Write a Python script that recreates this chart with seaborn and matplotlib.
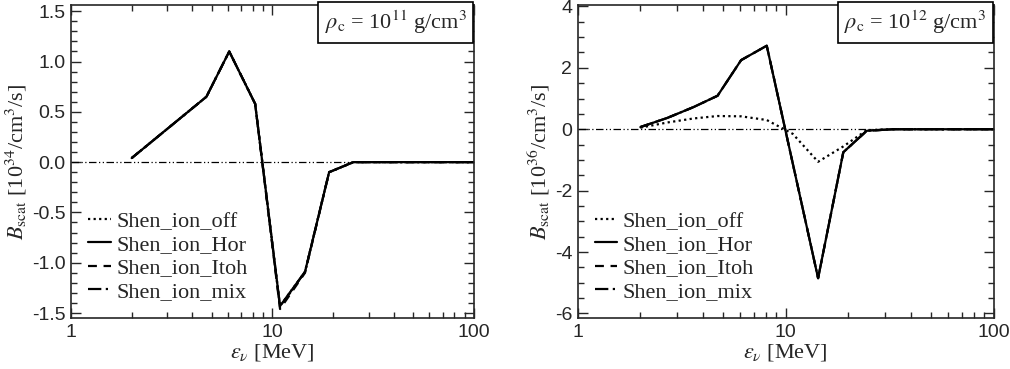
import numpy as np
import pandas as pd
import seaborn as sns
import matplotlib.pyplot as plt
from matplotlib.ticker import MultipleLocator, LogLocator, FixedLocator, FixedFormatter

# energies [MeV] and B_scat values
e_left = [2.0, 4.7, 6.1, 8.2, 10.9, 14.5, 19.1, 25.2, 33.0, 50.0, 100.0]
off_left = [0.04, 0.65, 1.10, 0.58, -1.43, -1.09, -0.10, 0.0, 0.0, 0.0, 0.0]
hor_left = [0.04, 0.65, 1.10, 0.58, -1.43, -1.09, -0.10, 0.0, 0.0, 0.0, 0.0]
itoh_left = [0.04, 0.65, 1.10, 0.58, -1.46, -1.10, -0.10, 0.0, 0.0, 0.0, 0.0]
mix_left = [0.04, 0.65, 1.10, 0.58, -1.44, -1.09, -0.10, 0.0, 0.0, 0.0, 0.0]

e_right = [2.0, 2.7, 3.6, 4.7, 6.1, 8.1, 10.8, 14.3, 18.9, 24.5, 33.0, 50.0, 100.0]
off_right = [0.05, 0.22, 0.35, 0.43, 0.42, 0.30, -0.15, -1.06, -0.56, -0.03, 0.0, 0.0, 0.0]
hor_right = [0.07, 0.37, 0.72, 1.09, 2.25, 2.72, -1.11, -4.85, -0.75, -0.05, 0.0, 0.0, 0.0]
itoh_right = [0.07, 0.37, 0.72, 1.09, 2.25, 2.72, -1.11, -4.85, -0.75, -0.05, 0.0, 0.0, 0.0]
mix_right = [0.07, 0.37, 0.72, 1.09, 2.25, 2.72, -1.11, -4.85, -0.75, -0.05, 0.0, 0.0, 0.0]

labels = ["Shen_ion_off", "Shen_ion_Hor", "Shen_ion_Itoh", "Shen_ion_mix"]
styles = [(0, (1, 1.5)), "-", (0, (4, 3)), (0, (6, 2, 1, 2))]

sns.set_style("ticks")
plt.rcParams["font.family"] = ["Liberation Sans", "DejaVu Sans"]
plt.rcParams["mathtext.fontset"] = "stix"
plt.rcParams["xtick.direction"] = "in"
plt.rcParams["ytick.direction"] = "in"
plt.rcParams["xtick.top"] = True
plt.rcParams["ytick.right"] = True

serif = ["Liberation Serif", "DejaVu Serif"]

fig = plt.figure(figsize=(10.1, 3.69), dpi=100)
ax1 = fig.add_axes([0.0703, 0.138, 0.399, 0.848])
ax2 = fig.add_axes([0.572, 0.138, 0.412, 0.848])

panels = [
    (ax1, e_left, [off_left, hor_left, itoh_left, mix_left], 34, 11, (-1.55, 1.56), 0.5, 0.1),
    (ax2, e_right, [off_right, hor_right, itoh_right, mix_right], 36, 12, (-6.15, 4.04), 2, 0.5),
]

for ax, e, series, expo, rho, ylim, major, minor in panels:
    ax.axhline(0, color="k", lw=0.9, ls=(0, (6, 2, 1, 2, 1, 2)), zorder=1)
    for vals, lab, ls in zip(series, labels, styles):
        sns.lineplot(x=e, y=vals, ax=ax, color="k", lw=1.6, linestyle=ls,
                     label=lab, estimator=None, sort=True)
    ax.set_xscale("log")
    ax.set_xlim(1, 100)
    ax.set_ylim(*ylim)
    ax.xaxis.set_major_locator(FixedLocator([1, 10, 100]))
    ax.xaxis.set_major_formatter(FixedFormatter(["1", "10", "100"]))
    ax.xaxis.set_minor_locator(LogLocator(base=10, subs=np.arange(2, 10)))
    ax.yaxis.set_major_locator(MultipleLocator(major))
    ax.yaxis.set_minor_locator(MultipleLocator(minor))
    if major == 0.5:
        ax.yaxis.set_major_formatter(plt.FuncFormatter(lambda v, p: f"{v:.1f}"))
    else:
        ax.yaxis.set_major_formatter(plt.FuncFormatter(lambda v, p: f"{v:.0f}"))
    ax.tick_params(which="major", length=7, width=1, labelsize=14, pad=4)
    ax.tick_params(which="minor", length=4, width=1)
    ax.tick_params(axis="x", which="major", pad=4)
    for sp in ax.spines.values():
        sp.set_linewidth(1.2)
    ax.set_xlabel(r"$\epsilon_\nu$ [MeV]", fontsize=16, family=serif, labelpad=1)
    ax.set_ylabel(r"$B_{\rm scat}$ [10$^{%d}$/cm$^3$/s]" % expo, fontsize=16,
                  family=serif, labelpad=2)
    ax.text(0.982, 0.988, r"$\rho_{\rm c}$ = 10$^{%d}$ g/cm$^3$" % rho,
            transform=ax.transAxes, ha="right", va="top", fontsize=16, family=serif,
            bbox=dict(boxstyle="square,pad=0.3", fc="white", ec="k", lw=1.2))
    ax.legend(loc="lower left", bbox_to_anchor=(0.01, 0.01), frameon=False,
              prop={"family": serif, "size": 16}, handlelength=1.0,
              handletextpad=0.25, labelspacing=0.12, borderaxespad=0.2)

plt.savefig("out.png", dpi=100)
